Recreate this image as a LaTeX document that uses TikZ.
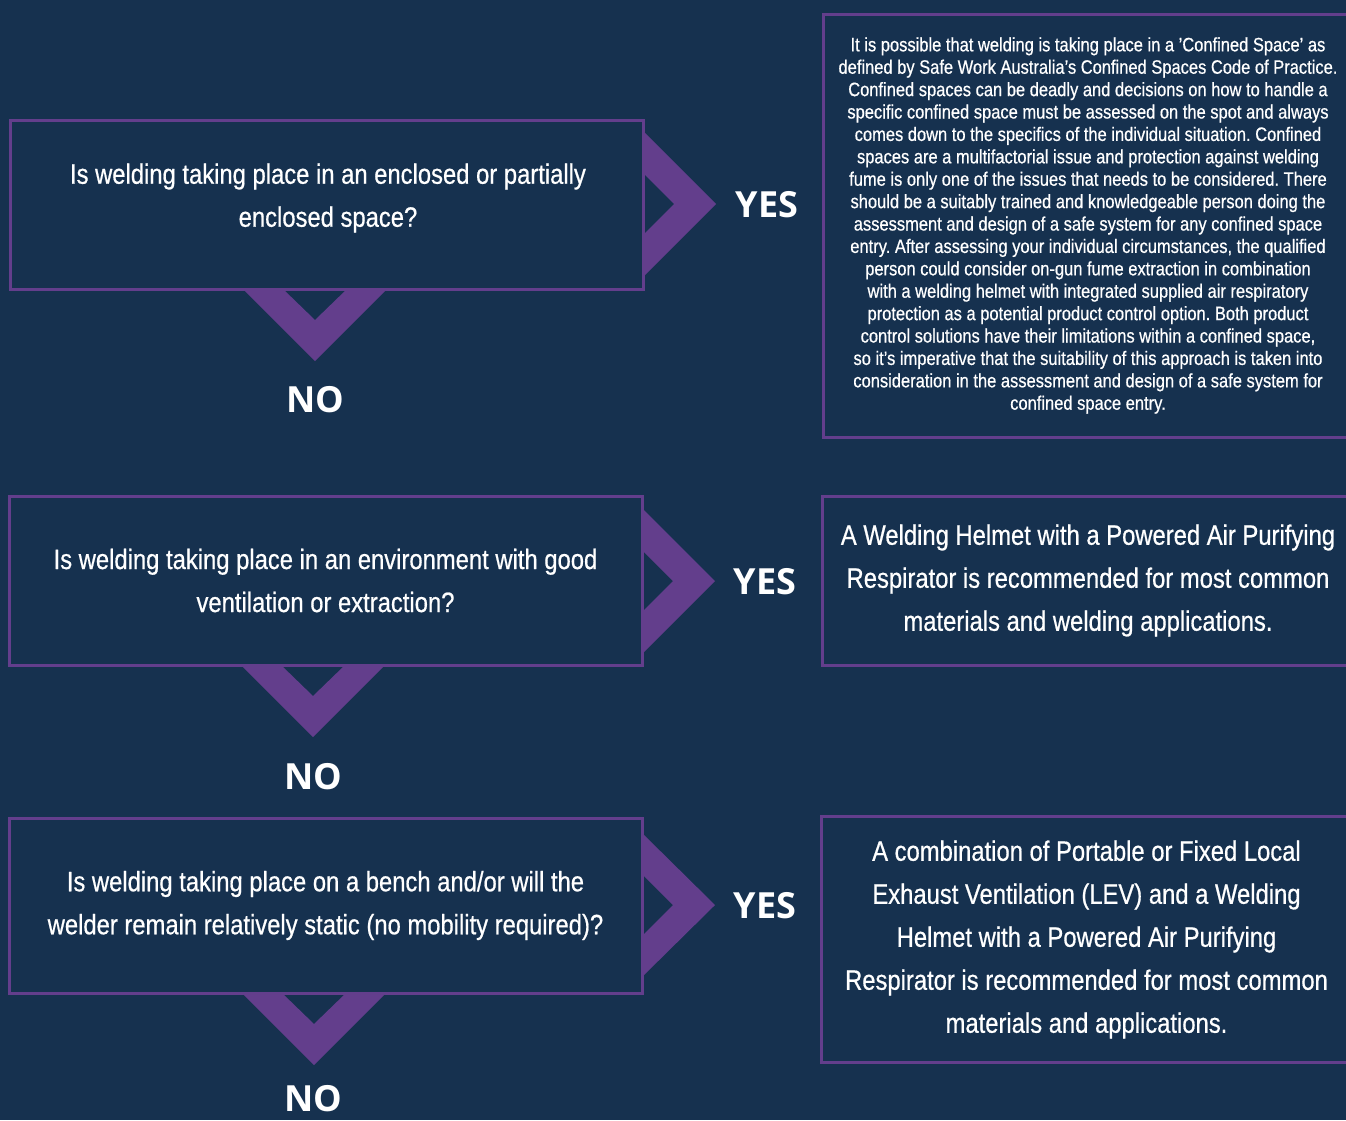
\documentclass[tikz,border=0pt]{standalone}
\usepackage{fontspec}
\setmainfont{Liberation Sans}[FakeStretch=0.85, FakeBold=0.6]
\newfontfamily\yesnofont{Open Sans}
\usepackage{xcolor}
\definecolor{bgnavy}{HTML}{16314F}
\definecolor{chevpurple}{HTML}{633E8C}
\frenchspacing
\tikzset{
    qbox/.style={draw=chevpurple, line width=3pt, fill=bgnavy, text=white, align=center,
        inner sep=0pt, font=\fontsize{28}{43}\selectfont},
    abox/.style={qbox},
    qtext/.style={text=white, align=center, inner sep=0pt, font=\fontsize{28}{43}\selectfont},
    yesno/.style={text=white, font=\yesnofont\bfseries\fontsize{36}{40}\selectfont},
    chev/.style={fill=chevpurple}
}

\begin{document}
\begin{tikzpicture}[x=1pt, y=-1pt]

    % Background
    \fill[bgnavy] (0,0) rectangle (1346,1120);
    \clip (0,0) rectangle (1346,1120);

    % Chevrons (drawn first, the boxes sit on top)
    \fill[chev] (643,131) -- (716,204) -- (643,277) -- (643,235) -- (674,204) -- (643,173) -- cycle;
    \fill[chev] (642,508) -- (715,581) -- (642,654) -- (642,612) -- (673,581) -- (642,550) -- cycle;
    \fill[chev] (642,833) -- (715,905) -- (642,977) -- (642,936) -- (673,905) -- (642,874) -- cycle;
    \fill[chev] (243,289) -- (315,361) -- (387,289) -- (347,289) -- (315,320) -- (283,289) -- cycle;
    \fill[chev] (241,665) -- (313,737) -- (385,665) -- (345,665) -- (313,696) -- (281,665) -- cycle;
    \fill[chev] (242,993) -- (314,1065) -- (386,993) -- (346,993) -- (314,1024) -- (282,993) -- cycle;

    % Question 1
    \node[qbox, minimum width=633, minimum height=169] (q1) at (326.5,204.5) {};
    \node[qtext] (q1text) at (328,198)
        {Is welding taking place in an enclosed or partially\\enclosed space?};
    \node[yesno] (yes1) at (767,205) {YES};
    \node[yesno] (no1) at (315,400) {NO};

    % Answer 1 (confined space)
    \node[abox, minimum width=529, minimum height=423, font=\fontsize{19.4}{22.4}\selectfont] (a1) at (1088,225.5)
        {It is possible that welding is taking place in a 'Confined Space' as\\
        defined by Safe Work Australia’s Confined Spaces Code of Practice.\\
        Confined spaces can be deadly and decisions on how to handle a\\
        specific confined space must be assessed on the spot and always\\
        comes down to the specifics of the individual situation. Confined\\
        spaces are a multifactorial issue and protection against welding\\
        fume is only one of the issues that needs to be considered. There\\
        should be a suitably trained and knowledgeable person doing the\\
        assessment and design of a safe system for any confined space\\
        entry. After assessing your individual circumstances, the qualified\\
        person could consider on-gun fume extraction in combination\\
        with a welding helmet with integrated supplied air respiratory\\
        protection as a potential product control option. Both product\\
        control solutions have their limitations within a confined space,\\
        so it’s imperative that the suitability of this approach is taken into\\
        consideration in the assessment and design of a safe system for\\
        confined space entry.};

    % Question 2
    \node[qbox, minimum width=633, minimum height=169] (q2) at (325.5,580.5)
        {Is welding taking place in an environment with good\\ventilation or extraction?};
    \node[yesno] (yes2) at (765,582) {YES};
    \node[yesno] (no2) at (313,777) {NO};

    % Answer 2
    \node[abox, minimum width=532, minimum height=169] (a2) at (1088,580.5)
        {A Welding Helmet with a Powered Air Purifying\\Respirator is recommended for most common\\materials and welding applications.};

    % Question 3
    \node[qbox, minimum width=633, minimum height=175] (q3) at (325.5,905.5)
        {Is welding taking place on a bench and/or will the\\welder remain relatively static (no mobility required)?};
    \node[yesno] (yes3) at (765,906) {YES};
    \node[yesno] (no3) at (313,1099) {NO};

    % Answer 3
    \node[abox, minimum width=531, minimum height=246] (a3) at (1086.5,939.5)
        {A combination of Portable or Fixed Local\\Exhaust Ventilation (LEV) and a Welding\\Helmet with a Powered Air Purifying\\Respirator is recommended for most common\\materials and applications.};

\end{tikzpicture}
\end{document}
